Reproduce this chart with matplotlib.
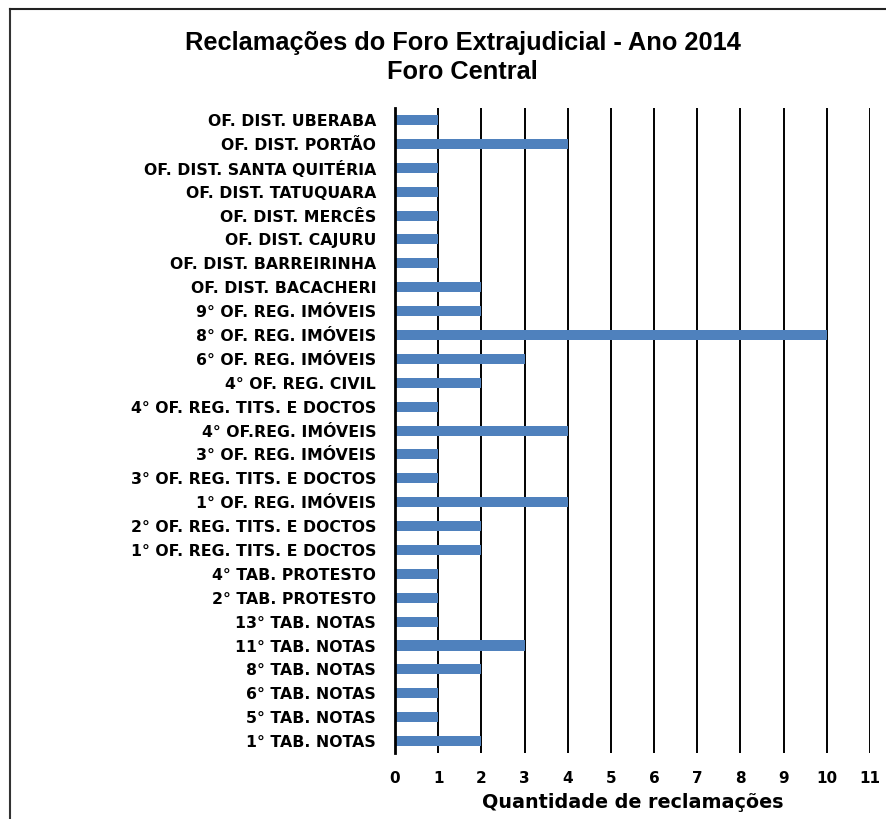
import matplotlib.pyplot as plt
from matplotlib.lines import Line2D

# dados (de cima para baixo)
categorias = [
    "OF. DIST. UBERABA", "OF. DIST. PORTÃO", "OF. DIST. SANTA QUITÉRIA",
    "OF. DIST. TATUQUARA", "OF. DIST. MERCÊS", "OF. DIST. CAJURU",
    "OF. DIST. BARREIRINHA", "OF. DIST. BACACHERI", "9° OF. REG. IMÓVEIS",
    "8° OF. REG. IMÓVEIS", "6° OF. REG. IMÓVEIS", "4° OF. REG. CIVIL",
    "4° OF. REG. TITS. E DOCTOS", "4° OF.REG. IMÓVEIS", "3° OF. REG. IMÓVEIS",
    "3° OF. REG. TITS. E DOCTOS", "1° OF. REG. IMÓVEIS", "2° OF. REG. TITS. E DOCTOS",
    "1° OF. REG. TITS. E DOCTOS", "4° TAB. PROTESTO", "2° TAB. PROTESTO",
    "13° TAB. NOTAS", "11° TAB. NOTAS", "8° TAB. NOTAS", "6° TAB. NOTAS",
    "5° TAB. NOTAS", "1° TAB. NOTAS",
]
reclamacoes = [1, 4, 1, 1, 1, 1, 1, 2, 2, 10, 3, 2, 1, 4, 1, 1, 4, 2, 2, 1, 1, 1, 3, 2, 1, 1, 2]
ticks_x = list(range(0, 12))

fonte = ["DejaVu Sans"]
fonte_titulo = ["Liberation Sans", "DejaVu Sans"]

fig = plt.figure(figsize=(8.86, 8.19), dpi=100)
ax = fig.add_axes([0.4458, 0.0806, 0.982 - 0.4458, 0.868 - 0.0806])

y = list(range(len(categorias)))
ax.barh(y, reclamacoes, height=0.42, color="#4F81BD", zorder=3)

ax.set_ylim(len(categorias) - 0.5, -0.5)
ax.set_xlim(0, 11)
ax.set_yticks(y)
ax.set_yticklabels(categorias, fontsize=11.3, fontweight="bold", family=fonte)
ax.set_xticks(ticks_x)
ax.set_xticklabels([str(t) for t in ticks_x], fontsize=11, fontweight="bold", family=fonte)
ax.tick_params(axis="y", length=0, pad=13.5)
ax.tick_params(axis="x", length=0, pad=13)

ax.grid(axis="x", color="black", linewidth=1.4, zorder=1)
for s in ["top", "right", "bottom"]:
    ax.spines[s].set_visible(False)
ax.spines["left"].set_linewidth(2)
ax.spines["left"].set_zorder(4)

ax.set_xlabel("Quantidade de reclamações", fontsize=13.8, fontweight="bold", family=fonte, labelpad=5)

fig.text(0.522, 0.948, "Reclamações do Foro Extrajudicial - Ano 2014", ha="center", va="center",
         fontsize=18.3, fontweight="bold", family=fonte_titulo)
fig.text(0.522, 0.912, "Foro Central", ha="center", va="center",
         fontsize=18.3, fontweight="bold", family=fonte_titulo)

# moldura
fig.add_artist(Line2D([0.0113, 0.0113], [0, 0.989], transform=fig.transFigure, color="#333333", lw=1.5))
fig.add_artist(Line2D([0.0113, 1], [0.989, 0.989], transform=fig.transFigure, color="#222222", lw=1.5))

fig.savefig("out.png", dpi=100)
